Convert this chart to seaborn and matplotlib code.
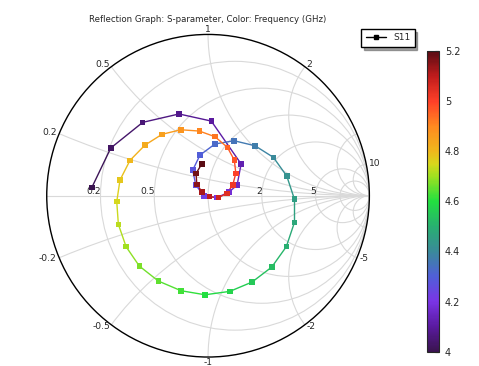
import numpy as np
import pandas as pd
import seaborn as sns
import matplotlib
matplotlib.use("Agg")
import matplotlib.pyplot as plt
from matplotlib.colors import LinearSegmentedColormap, Normalize
from matplotlib.collections import LineCollection
from matplotlib.patches import Circle
from matplotlib.lines import Line2D
import matplotlib.cm as cm

# frequency sweep (GHz) and S11
freq_ghz = [4.0, 4.025, 4.05, 4.075, 4.1, 4.125, 4.15, 4.175, 4.2, 4.225,
            4.25, 4.275, 4.3, 4.325, 4.35, 4.375, 4.4, 4.425, 4.45, 4.475,
            4.5, 4.525, 4.55, 4.575, 4.6, 4.625, 4.65, 4.675, 4.7, 4.725,
            4.75, 4.775, 4.8, 4.825, 4.85, 4.875, 4.9, 4.925, 4.95, 4.975,
            5.0, 5.025, 5.05, 5.075, 5.1, 5.125, 5.15, 5.175, 5.2]
s11_re = [-0.721, -0.603, -0.405, -0.180, 0.020, 0.205, 0.180, 0.130, 0.056, -0.025,
          -0.076, -0.095, -0.050, 0.043, 0.161, 0.291, 0.405, 0.488, 0.535, 0.535,
          0.485, 0.395, 0.273, 0.135, -0.019, -0.167, -0.308, -0.426, -0.508, -0.556,
          -0.566, -0.546, -0.484, -0.391, -0.285, -0.169, -0.054, 0.043, 0.120, 0.163,
          0.172, 0.153, 0.116, 0.064, 0.008, -0.037, -0.070, -0.074, -0.039]
s11_im = [0.050, 0.296, 0.455, 0.507, 0.463, 0.197, 0.066, 0.023, -0.011, -0.002,
          0.066, 0.159, 0.252, 0.321, 0.341, 0.310, 0.238, 0.122, -0.020, -0.167,
          -0.316, -0.442, -0.535, -0.593, -0.614, -0.589, -0.529, -0.436, -0.316, -0.177,
          -0.037, 0.097, 0.219, 0.314, 0.381, 0.409, 0.401, 0.366, 0.300, 0.221,
          0.139, 0.066, 0.015, -0.012, -0.006, 0.023, 0.071, 0.139, 0.197]

r_values = [0.2, 0.5, 1, 2, 5, 10]
x_values = [0.2, 0.5, 1, 2, 5, 10]
top_labels = [0.2, 0.5, 1, 2, 10]
bottom_labels = [-0.2, -0.5, -1, -2, -5]
axis_labels = [0.2, 0.5, 2, 5]
cbar_ticks = [4, 4.2, 4.4, 4.6, 4.8, 5, 5.2]

df = pd.DataFrame({"freq": freq_ghz, "re": s11_re, "im": s11_im})

rainbow = LinearSegmentedColormap.from_list("comsol_rainbow", [
    (0.000, "#3a1450"), (0.083, "#5a1aa0"), (0.167, "#7a35e6"), (0.250, "#5060d8"),
    (0.333, "#3a8a9a"), (0.417, "#28b070"), (0.500, "#22e040"), (0.583, "#9ee020"),
    (0.625, "#d8d81c"), (0.667, "#f0b81c"), (0.750, "#ff8a20"), (0.833, "#ff4028"),
    (0.917, "#c01c1c"), (1.000, "#5a0c14")])
norm = Normalize(vmin=4, vmax=5.2)

sns.set_style("white")
plt.rcParams["font.family"] = ["DejaVu Sans"]

fig = plt.figure(figsize=(4.79, 3.66), dpi=100)
ax = fig.add_axes([0.0639, 0.00246, 0.7409, 0.9475])

grid_col = "#d9d9d9"
unit = Circle((0, 0), 1, transform=ax.transData, fill=False, lw=0)
ax.add_patch(unit)
for r in r_values:
    c = Circle((r / (1 + r), 0), 1 / (1 + r), fill=False, ec=grid_col, lw=0.8, zorder=1)
    ax.add_patch(c)
    c.set_clip_path(unit)
for x in x_values:
    for sx in (1, -1):
        c = Circle((1, sx / x), 1 / x, fill=False, ec=grid_col, lw=0.8, zorder=1)
        ax.add_patch(c)
        c.set_clip_path(unit)
ax.plot([-1, 1], [0, 0], color=grid_col, lw=0.8, zorder=1)
ax.add_patch(Circle((0, 0), 1, fill=False, ec="black", lw=1.0, zorder=3))

# reactance labels around the rim
for x in top_labels + bottom_labels:
    ang = np.sign(x) * (np.pi - 2 * np.arctan(abs(x)))
    c, s = np.cos(ang), np.sin(ang)
    ha = "left" if c > 0.2 else ("right" if c < -0.2 else "center")
    va = ("bottom" if s > 0 else "top") if abs(s) > 0.9 else "center"
    rad = 1.005 if abs(s) > 0.9 else 1.015
    ax.text(rad * c, rad * s, f"{x:g}", fontsize=6.6, ha=ha, va=va)
for r in axis_labels:
    g = (r - 1) / (r + 1)
    ax.text(g + 0.004, 0.01, f"{r:g}", fontsize=6.6, ha="right", va="baseline")

# curve: line segments coloured by frequency, then square markers
pts = df[["re", "im"]].to_numpy()
segs = np.stack([pts[:-1], pts[1:]], axis=1)
mid = (df["freq"].to_numpy()[:-1] + df["freq"].to_numpy()[1:]) / 2
lc = LineCollection(segs, cmap=rainbow, norm=norm, lw=1.0, zorder=4)
lc.set_array(mid)
ax.add_collection(lc)
sns.scatterplot(data=df, x="re", y="im", hue="freq", palette=rainbow, hue_norm=norm,
                marker="s", s=16, linewidth=0, legend=False, ax=ax, zorder=5)
ax.set_xlim(-1.1, 1.1)
ax.set_ylim(-1.05, 1.1)
ax.axis("off")

fig.text(208 / 479, 1 - 20 / 366, "Reflection Graph: S-parameter, Color: Frequency (GHz)",
         fontsize=6.2, ha="center", va="center")

handle = Line2D([], [], color="black", lw=1.0, marker="s", markersize=3.5)
fig.legend([handle], ["S11"], loc="center", bbox_to_anchor=(388 / 479, 1 - 38 / 366),
           fontsize=6.5, frameon=True, fancybox=False, shadow=True, edgecolor="black",
           handlelength=2.2, borderpad=0.5)

cax = fig.add_axes([427.3 / 479, (366 - 351.7) / 366, 12 / 479, (351.7 - 51) / 366])
sm = cm.ScalarMappable(norm=norm, cmap=rainbow)
cb = fig.colorbar(sm, cax=cax, ticks=cbar_ticks)
cb.ax.set_yticklabels([f"{t:g}" for t in cbar_ticks])
cb.ax.tick_params(labelsize=7, length=3, direction="in", color="black", pad=4)
cb.outline.set_linewidth(0.8)

fig.savefig("out.png", dpi=100)
